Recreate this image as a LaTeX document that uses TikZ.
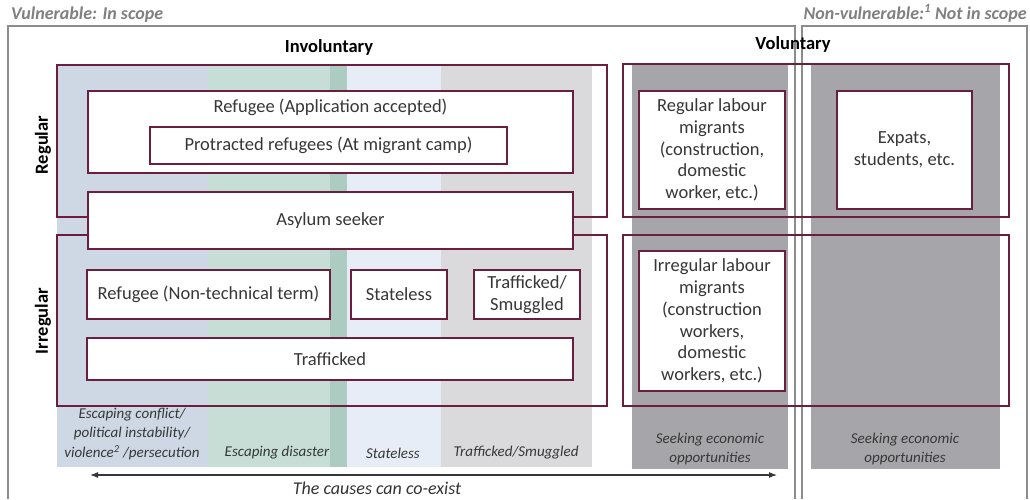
\documentclass[tikz,border=0pt]{standalone}
\usepackage{fontspec}
\setmainfont{Carlito}
\usetikzlibrary{arrows.meta}
\definecolor{frm}{RGB}{108,30,62}
\definecolor{cblue}{RGB}{205,216,228}
\definecolor{cgreen}{RGB}{198,222,213}
\definecolor{cdgreen}{RGB}{172,204,194}
\definecolor{clblue}{RGB}{231,237,247}
\definecolor{clgrey}{RGB}{218,218,221}
\definecolor{cvgrey}{RGB}{166,166,170}
\definecolor{outl}{RGB}{140,140,140}
\definecolor{txt}{RGB}{55,55,55}
\definecolor{hdr}{RGB}{128,128,128}
\begin{document}
\begin{tikzpicture}[x=1pt,y=-1pt,
  frame/.style={draw=frm,line width=1.8pt,rectangle,inner sep=0pt},
  wbox/.style={draw=frm,line width=1.8pt,fill=white,rectangle,inner sep=0pt,align=center,text=txt,font=\fontsize{18.5}{21.8}\selectfont},
  boxtxt/.style={text=txt,font=\fontsize{18.5}{21.8}\selectfont,inner sep=0pt,align=center},
  collbl/.style={text=txt,font=\fontsize{15}{19.5}\selectfont\itshape,inner sep=0pt,align=center},
  headb/.style={text=black,font=\fontsize{18.5}{20}\selectfont\bfseries,inner sep=0pt},
  scope/.style={text=hdr,font=\fontsize{18}{20}\selectfont\bfseries\itshape,inner sep=0pt},
  outer/.style={draw=outl,line width=1.2pt}]
\useasboundingbox (0,0) rectangle (1030,499);
\fill[white] (0,0) rectangle (1030,499);
% columns
\fill[cblue] (57,65) rectangle (208,467);
\fill[cgreen] (208,65) rectangle (347,467);
\fill[cdgreen] (330,65) rectangle (347,467);
\fill[clblue] (347,65) rectangle (441,467);
\fill[clgrey] (441,65) rectangle (592,467);
\fill[cvgrey] (632,65) rectangle (788,469);
\fill[cvgrey] (811,65) rectangle (1000,469);
% outer scope boxes
\draw[outer] (8,499) -- (8,26) -- (795,26) -- (795,499);
\draw[outer] (802,499) -- (802,26) -- (1027,26) -- (1027,499);
\node[scope,anchor=base west] (vuln) at (11,19) {Vulnerable: In scope};
\node[scope,anchor=base east] (nvuln) at (1027,19) {Non-vulnerable:\textsuperscript{1} Not in scope};
% headers
\node[headb] (invol) at (329,47) {Involuntary};
\node[headb] (vol) at (793,44) {Voluntary};
\node[headb,rotate=90] (reg) at (43,145) {Regular};
\node[headb,rotate=90] (irr) at (43,321) {Irregular};
% frames
\node[frame,minimum width=550,minimum height=152] (invreg) at (332,141) {};
\node[frame,minimum width=550,minimum height=171] (invirr) at (332,320.5) {};
\node[frame,minimum width=386,minimum height=153] (volreg) at (816,140.5) {};
\node[frame,minimum width=386,minimum height=171] (volirr) at (816,320.5) {};
% boxes
\node[wbox,minimum width=485,minimum height=82] (refa) at (330.5,132) {};
\node[boxtxt] (refatxt) at (330.5,107) {Refugee (Application accepted)};
\node[wbox,minimum width=357,minimum height=37] (prot) at (328.5,145.5) {Protracted refugees (At migrant camp)};
\node[wbox,minimum width=485,minimum height=57] (asyl) at (330.5,220.5) {Asylum seeker};
\node[wbox,minimum width=243,minimum height=49] (refnt) at (208.5,294.5) {Refugee (Non-technical term)};
\node[wbox,minimum width=96,minimum height=49] (stl) at (399,294.5) {Stateless};
\node[wbox,minimum width=106,minimum height=49] (trsm) at (527,294.5) {Trafficked/\\Smuggled};
\node[wbox,minimum width=486,minimum height=42] (traf) at (330,359) {Trafficked};
\node[wbox,minimum width=146,minimum height=118] (reglab) at (712,150) {Regular labour\\migrants\\(construction,\\domestic\\worker, etc.)};
\node[wbox,minimum width=135,minimum height=118] (expat) at (904.5,150) {Expats,\\students, etc.};
\node[wbox,minimum width=146,minimum height=140] (irrlab) at (712,321) {Irregular labour\\migrants\\(construction\\workers,\\domestic\\workers, etc.)};
% column labels
\node[collbl] (l1) at (132,434) {Escaping conflict/\\political instability/\\violence\textsuperscript{2} /persecution};
\node[collbl] (l2) at (277,453) {Escaping disaster};
\node[collbl] (l3) at (393,453) {Stateless};
\node[collbl] (l4) at (516,453) {Trafficked/Smuggled};
\node[collbl] (l5) at (710,449) {Seeking economic\\opportunities};
\node[collbl] (l6) at (905,449) {Seeking economic\\opportunities};
% arrow
\coordinate (al) at (90,475);
\coordinate (ar) at (777,475);
\draw[draw=txt,line width=1.1pt,{Latex[length=8pt,width=6pt]}-{Latex[length=8pt,width=6pt]}] (al) -- (ar);
\node[collbl,font=\fontsize{18}{20}\selectfont\itshape,text=black!80] (cause) at (377,488) {The causes can co-exist};
\end{tikzpicture}
\end{document}
